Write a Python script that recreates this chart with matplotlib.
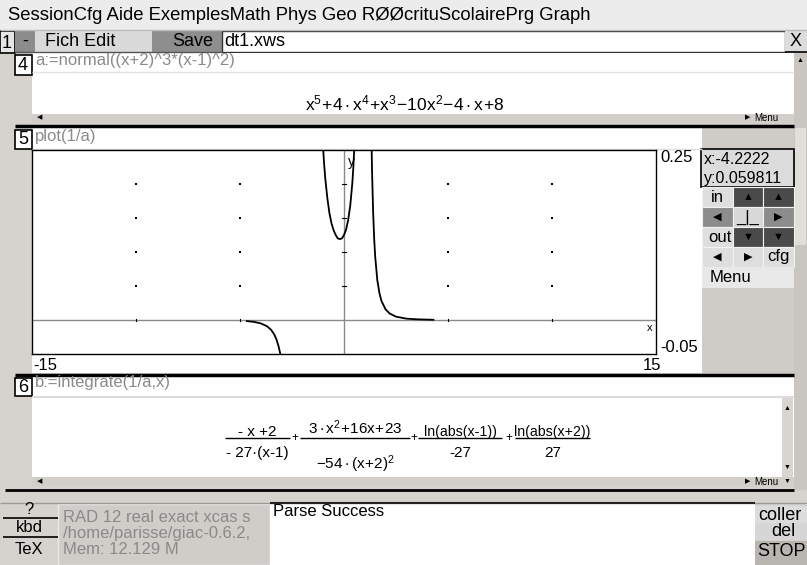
"""Xcas session screenshot: plot(1/a) with a:=normal((x+2)^3*(x-1)^2)."""

import matplotlib
matplotlib.use("Agg")
import matplotlib.pyplot as plt
from matplotlib.patches import Rectangle

plt.rcParams["font.family"] = ["Liberation Sans", "DejaVu Sans"]
plt.rcParams["mathtext.fontset"] = "custom"
plt.rcParams["mathtext.rm"] = "Liberation Sans"
plt.rcParams["mathtext.it"] = "Liberation Sans"

# --- data ------------------------------------------------------------------
menu_line = "SessionCfg Aide ExemplesMath Phys Geo RØØcrituScolairePrg Graph"

x_range = [-15, 15]
y_range = [-0.05, 0.25]
grid_x = [-10, -5, 5, 10]
grid_y = [0.05, 0.10, 0.15, 0.20]

# branch x < -2 (negative values)
neg_x = [-4.67, -4.3, -4.0, -3.7, -3.5, -3.35, -3.25, -3.15, -3.08, -3.04]
neg_y = [-0.0016, -0.0029, -0.005, -0.0092, -0.0146, -0.0215, -0.0283,
         -0.0382, -0.0474, -0.0542]
# branch -2 < x < 1
mid_x = [-1.02, -0.95, -0.9, -0.8, -0.7, -0.6, -0.5, -0.4, -0.3, -0.2, -0.1,
         0.0, 0.1, 0.2, 0.3, 0.4, 0.45, 0.5]
mid_y = [0.26, 0.227, 0.208, 0.179, 0.157, 0.142, 0.132, 0.125, 0.120, 0.119,
         0.120, 0.125, 0.133, 0.147, 0.168, 0.201, 0.225, 0.256]
# branch x > 1
right_x = [1.32, 1.35, 1.4, 1.45, 1.5, 1.6, 1.7, 1.8, 2.0, 2.2, 2.5, 3.0, 3.5,
           4.3]
right_y = [0.267, 0.217, 0.159, 0.120, 0.093, 0.059, 0.040, 0.028, 0.0156,
           0.0094, 0.0049, 0.002, 0.001, 0.0003]

cursor_text = ["x:-4.2222", "y:0.059811"]
status_lines = ["RAD 12 real exact xcas s", "/home/parisse/giac-0.6.2,",
                "Mem: 12.129 M"]

W, H = 807, 565
BG = "#d6d3cf"
fig = plt.figure(figsize=(W / 100, H / 100), dpi=100)
fig.patch.set_facecolor(BG)

gui = fig.add_axes([0, 0, 1, 1])
gui.set_xlim(0, W)
gui.set_ylim(H, 0)
gui.axis("off")


def box(x, y, w, h, fc, ec="none", lw=1.0, z=1):
    gui.add_patch(Rectangle((x, y), w, h, facecolor=fc, edgecolor=ec,
                            linewidth=lw, zorder=z))


def txt(x, y, s, size=12, color="black", ha="left", va="center", z=5, **kw):
    return gui.text(x, y, s, fontsize=size, color=color, ha=ha, va=va,
                    zorder=z, **kw)


def hline(x0, x1, y, color="black", lw=1.0, z=3):
    gui.plot([x0, x1], [y, y], color=color, lw=lw, zorder=z,
             solid_capstyle="butt")


# menu bar
box(0, 0, W, 30, "#ececec")
hline(0, W, 30, color="#bdbdbd", lw=1)
txt(8, 16, menu_line, size=13.3)

# toolbar row
box(0, 31, 15, 22, "#e6e6e6", ec="black", lw=1.2)
txt(7, 43, "1", size=13, ha="center")
box(15, 31, 20, 21, "#8c8c8c")
txt(25, 41, "-", size=13, ha="center")
box(35, 31, 117, 21, "#dadada")
txt(45, 41, "Fich Edit", size=13)
box(152, 31, 70, 21, "#8e8e8e")
txt(213, 41, "Save", size=13, ha="right")
hline(15, 222, 52, color="#555555", lw=1)
box(222, 31, 563, 21, "white", ec="#333333", lw=1)
txt(224, 41, "dt1.xws", size=13)
box(785, 31, 22, 21, "#dcdcdc")
hline(785, 807, 52, lw=1.2)
txt(796, 41, "X", size=13, ha="center")

# right scrollbar of the session
box(794, 53, 13, 437, "#c9c5c1")
box(795, 128, 11, 117, "#e2dfdb")

# ---- entry 4 ------------------------------------------------------------
box(32, 53, 762, 61, "white")
box(15, 55, 17, 20, "white", ec="black", lw=1.2)
txt(23, 66, "4", size=13, ha="center")
txt(35, 61, "a:=normal((x+2)^3*(x-1)^2)", size=12, color="#8a8a8a")
hline(32, 794, 72, color="#e4e4e4", lw=1)
txt(405, 103,
    r"$\mathregular{x^{5}\!+\!4\cdot x^{4}\!+\!x^{3}\!-\!10x^{2}\!-\!4\cdot x\!+\!8}$",
    size=12.5, ha="center")
box(32, 114, 762, 9, "#d2cfcb")
txt(37, 118, "◀", size=5)
txt(745, 118, "▶", size=5)
txt(754, 118, "Menu", size=7)
txt(800, 60, "▲", size=5, ha="center")
hline(15, 794, 126, lw=2.5)

# ---- entry 5 (plot) -----------------------------------------------------
box(32, 128, 670, 245, "white")
box(15, 130, 17, 19, "white", ec="black", lw=1.2)
txt(23, 140, "5", size=13, ha="center")
txt(35, 137, "plot(1/a)", size=12, color="#8a8a8a")
hline(32, 702, 149, color="#dcdcdc", lw=1)
txt(660, 158, "0.25", size=12)
txt(660, 348, "-0.05", size=12)
txt(33, 365, "-15", size=12)
txt(643, 365, "15", size=12)

# zoom / move panel
box(702, 128, 92, 245, "#cfcbc7")
box(701, 149, 93, 38, "#dcdcdc", ec="black", lw=1.2)
txt(704, 159, cursor_text[0], size=11.5)
txt(704, 179, cursor_text[1], size=11.5)
cols = [702, 733, 763, 794]
rows = [187, 207, 227, 247, 267]
cell_fc = [["#dedede", "#4a4a4a", "#4a4a4a"],
           ["#8c8c8c", "#d8d8d8", "#8c8c8c"],
           ["#dedede", "#4a4a4a", "#4a4a4a"],
           ["#dedede", "#dedede", "#dedede"]]
cell_lb = [["in", "▲", "▲"], ["◀", "_|_", "▶"], ["out", "▼", "▼"],
           ["◀", "▶", "cfg"]]
for r in range(4):
    for c in range(3):
        box(cols[c], rows[r], cols[c + 1] - cols[c], rows[r + 1] - rows[r],
            cell_fc[r][c], ec="#f2f2f2", lw=0.8)
        lab = cell_lb[r][c]
        sz = 12 if lab in ("in", "out", "cfg", "_|_") else 8
        txt((cols[c] + cols[c + 1]) / 2 + (2 if lab == "out" else 0),
            (rows[r] + rows[r + 1]) / 2, lab, size=sz, ha="center")
box(702, 267, 92, 21, "#e8e8e8")
txt(710, 278, "Menu", size=12)
hline(15, 794, 375, lw=2.5)

# ---- entry 6 ------------------------------------------------------------
box(32, 377, 762, 100, "white")
box(15, 378, 17, 18, "white", ec="black", lw=1.2)
txt(23, 388, "6", size=13, ha="center")
txt(35, 383, "b:=integrate(1/a,x)", size=12, color="#8a8a8a")
hline(32, 794, 397, color="#dcdcdc", lw=1.5)

num_y, bar_y, den_y = 432, 438, 453
fracs = [("- x +2", "- 27·(x-1)", 225, 290, den_y),
         (r"$\mathregular{3\cdot x^{2}\!+\!16x\!+\!23}$",
          r"$\mathregular{- 54\cdot(x\!+\!2)^{2}}$", 300, 410, 467),
         ("ln(abs(x-1))", "-27", 418, 502, den_y),
         ("ln(abs(x+2))", "27", 515, 590, den_y)]
for num, den, x0, x1, dy in fracs:
    xc = (x0 + x1) / 2
    is_math = num.startswith("$")
    txt(xc, num_y - (4 if is_math else 0), num,
        size=11 if is_math or num.startswith("-") else 10.2, ha="center")
    hline(x0, x1, bar_y, lw=1)
    txt(xc, dy - (3 if den.startswith("$") else 0), den, size=11,
        ha="center")
for xp in (295, 414, 508.5):
    txt(xp, bar_y, "+", size=8.5, ha="center")

box(782, 398, 11, 79, "#d8d5d1")
txt(787, 408, "▲", size=5, ha="center")
txt(787, 467, "▼", size=5, ha="center")
box(32, 477, 762, 10, "#d2cfcb")
txt(37, 482, "◀", size=5)
txt(745, 482, "▶", size=5)
txt(754, 482, "Menu", size=7)
txt(787, 481, "▼", size=5, ha="center")
hline(5, 794, 490, lw=2)
hline(0, 807, 503, color="#9a9a9a", lw=1)

# ---- bottom bar ---------------------------------------------------------
txt(29, 510, "?", size=12, ha="center")
hline(3, 58, 518, lw=1.2)
txt(29, 527, "kbd", size=12, ha="center")
hline(3, 58, 537, lw=1.2)
txt(29, 550, "TeX", size=12, ha="center")
box(58, 504, 212, 61, "#d0ccc8", ec="#e8e8e8", lw=1)
clip = Rectangle((58, 504), 211, 61, transform=gui.transData)
for i, line in enumerate(status_lines):
    t = txt(63, 517 + 16.5 * i, line, size=12, color="#8a8a8a")
    t.set_clip_path(clip)
box(270, 503, 485, 62, "white")
hline(270, 755, 503, color="#222222", lw=1.5)
txt(273, 512, "Parse Success", size=12)
box(755, 506, 52, 17, "#dcdcdc")
txt(758, 515, "coller", size=13)
box(755, 523, 52, 17, "#d6d6d6")
txt(771, 531, "del", size=13)
box(755, 541, 52, 24, "#b8b4b0")
txt(757, 551, "STOP", size=13)

# ---- the graph itself ---------------------------------------------------
px0, px1, py0, py1 = 32, 656, 150, 354
ax = fig.add_axes([px0 / W, (H - py1) / H, (px1 - px0) / W, (py1 - py0) / H])
ax.set_facecolor("white")
ax.set_xlim(*x_range)
ax.set_ylim(*y_range)
ax.set_xticks([])
ax.set_yticks([])
for s in ax.spines.values():
    s.set_color("black")
    s.set_linewidth(1.0)
ax.axhline(0, color="#8a8a8a", lw=1)
ax.axvline(0, color="#8a8a8a", lw=1)
for gx in grid_x:
    ax.scatter([gx] * len(grid_y), grid_y, s=1.2, color="black", marker="s",
               linewidths=0)
    ax.plot([gx, gx], [-0.002, 0.002], color="black", lw=0.8)
for gy in grid_y:
    ax.plot([-0.12, 0.12], [gy, gy], color="black", lw=0.8)
ax.plot(neg_x, neg_y, color="black", lw=1.3)
ax.plot(mid_x, mid_y, color="black", lw=1.3)
ax.plot(right_x, right_y, color="black", lw=1.3)
ax.text(0.2, 0.232, "y", fontsize=10, ha="left", va="center")
ax.text(14.7, -0.012, "x", fontsize=8, ha="center", va="center")

fig.savefig("out.png", dpi=100, facecolor=fig.get_facecolor())
